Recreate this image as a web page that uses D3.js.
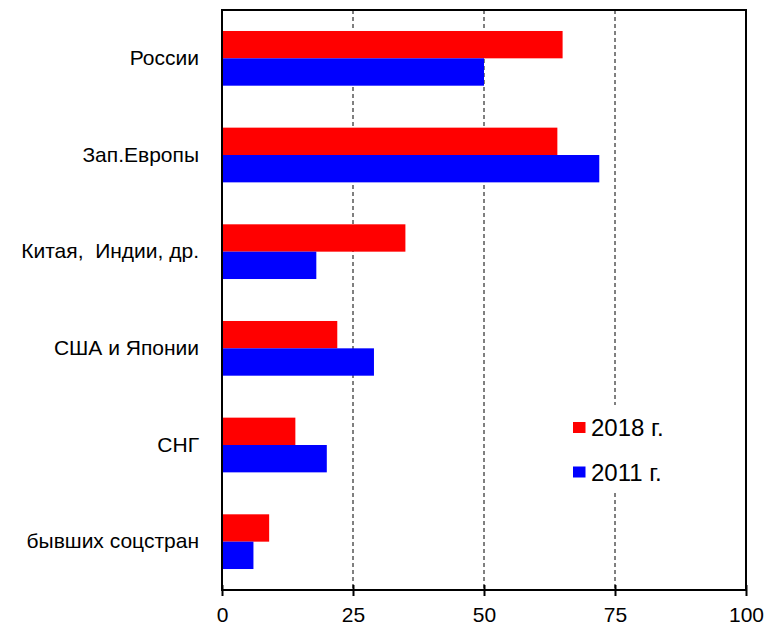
<!DOCTYPE html>
<html>
<head>
<meta charset="utf-8">
<script src="https://cdn.jsdelivr.net/npm/d3@7"></script>
<style>
  body { margin: 0; background: #fff; }
  text { font-family: "Liberation Sans", Arial, sans-serif; white-space: pre; }
</style>
</head>
<body>
<div id="my_dataviz"></div>
<script>
// data
var categories = ["России", "Зап.Европы", "Китая,  Индии, др.", "США и Японии", "СНГ", "бывших соцстран"];
var series = ["2018 г.", "2011 г."];
var values2018 = [65, 64, 35, 22, 14, 9];
var values2011 = [50, 72, 18, 29, 20, 6];
var xTicks = [0, 25, 50, 75, 100];
var colors = ["#ff0000", "#0000ff"];

var rows = categories.map(function(c, i) {
  return { cat: c, vals: [values2018[i], values2011[i]] };
});

// set the dimensions and margins of the graph
var margin = {top: 10, right: 21, bottom: 35, left: 222},
    width = 767 - margin.left - margin.right,
    height = 625 - margin.top - margin.bottom;

var svg = d3.select("#my_dataviz")
  .append("svg")
    .attr("width", 767)
    .attr("height", 625)
  .append("g")
    .attr("transform", "translate(" + margin.left + "," + margin.top + ")");

// scales
var x = d3.scaleLinear()
  .domain([0, 100])
  .range([0, width]);

var y = d3.scaleBand()
  .domain(categories)
  .range([0, height])
  .paddingInner(0.434)
  .paddingOuter(0.217);

var ySub = d3.scaleBand()
  .domain(series)
  .range([0, y.bandwidth()]);

var color = d3.scaleOrdinal().domain(series).range(colors);

// dashed gridlines
svg.append("g")
  .selectAll("line")
  .data(xTicks.filter(function(d) { return d > 0 && d < 100; }))
  .enter()
  .append("line")
    .attr("x1", function(d) { return x(d); })
    .attr("x2", function(d) { return x(d); })
    .attr("y1", 0)
    .attr("y2", height)
    .attr("stroke", "#000")
    .attr("stroke-width", 1)
    .style("stroke-dasharray", "4,3");

// bars
svg.append("g")
  .selectAll("g")
  .data(rows)
  .enter()
  .append("g")
    .attr("transform", function(d) { return "translate(0," + y(d.cat) + ")"; })
  .selectAll("rect")
  .data(function(d) { return d.vals.map(function(v, i) { return { key: series[i], value: v }; }); })
  .enter()
  .append("rect")
    .attr("x", x(0))
    .attr("y", function(d) { return ySub(d.key); })
    .attr("width", function(d) { return x(d.value) - x(0); })
    .attr("height", ySub.bandwidth())
    .attr("fill", function(d) { return color(d.key); });

// frame
svg.append("rect")
  .attr("x", 0)
  .attr("y", 0)
  .attr("width", width)
  .attr("height", height)
  .attr("fill", "none")
  .attr("stroke", "#000")
  .attr("stroke-width", 2);

// X axis
var xAxis = svg.append("g")
  .attr("transform", "translate(0," + height + ")")
  .call(d3.axisBottom(x).tickValues(xTicks).tickSize(6).tickPadding(11));
xAxis.select(".domain").remove();
xAxis.selectAll(".tick line")
  .attr("y1", -5)
  .attr("stroke-width", 2);
xAxis.selectAll("text")
  .style("font-size", "21px")
  .attr("fill", "#000");

// Y axis labels
var yAxis = svg.append("g")
  .call(d3.axisLeft(y).tickSize(0).tickPadding(23));
yAxis.select(".domain").remove();
yAxis.selectAll("text")
  .style("font-size", "21px")
  .attr("fill", "#000");

// legend
var legend = svg.append("g")
  .attr("transform", "translate(" + (x(75) - 55) + "," + 395 + ")");
legend.append("rect")
  .attr("x", 0)
  .attr("y", 0)
  .attr("width", 125)
  .attr("height", 88)
  .attr("fill", "#fff");
legend.selectAll("rect.key")
  .data(series)
  .enter()
  .append("rect")
    .attr("class", "key")
    .attr("x", 13)
    .attr("y", function(d, i) { return 17 + i * 44.5; })
    .attr("width", 12.5)
    .attr("height", 11)
    .attr("fill", function(d) { return color(d); });
legend.selectAll("text")
  .data(series)
  .enter()
  .append("text")
    .attr("x", 31)
    .attr("y", function(d, i) { return 31 + i * 44.5; })
    .text(function(d) { return d; })
    .style("font-size", "24px")
    .attr("fill", "#000");
</script>
</body>
</html>
